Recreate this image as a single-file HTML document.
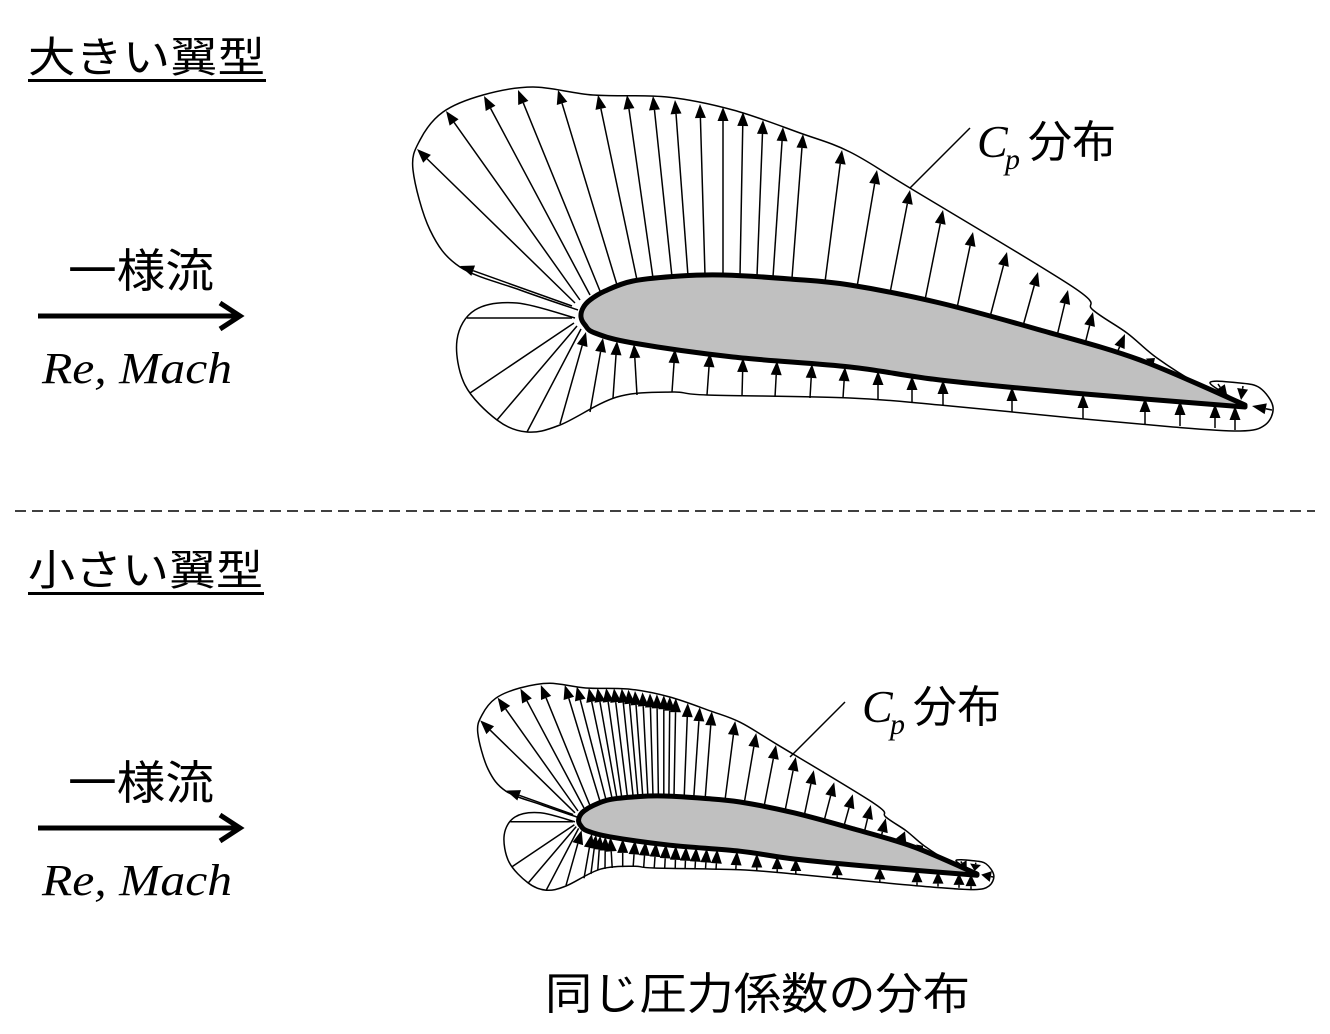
<!DOCTYPE html>
<html><head><meta charset="utf-8">
<style>
html,body{margin:0;padding:0;background:#fff;}
svg{display:block;}
.jp{font-family:"Liberation Sans","Noto Sans CJK JP",sans-serif;}
.it{font-family:"Liberation Serif","Times New Roman",serif;font-style:italic;}
</style></head>
<body>
<svg id="s" width="1330" height="1034" viewBox="0 0 1330 1034" xmlns="http://www.w3.org/2000/svg">
<g id="g"></g>
<text class="jp" x="28" y="72" font-size="42" textLength="237" lengthAdjust="spacingAndGlyphs">大きい翼型</text>
<rect x="28" y="79" width="238" height="3" fill="#000"/>
<text class="jp" x="28" y="585" font-size="42" textLength="235" lengthAdjust="spacingAndGlyphs">小さい翼型</text>
<rect x="28" y="592" width="236" height="3" fill="#000"/>

<text class="jp" x="68" y="287" font-size="46" textLength="146" lengthAdjust="spacingAndGlyphs">一様流</text>
<line x1="38" y1="316" x2="240" y2="316" stroke="#000" stroke-width="5"/>
<polyline points="220,303 240,316 220,329" fill="none" stroke="#000" stroke-width="5"/>
<text class="it" x="42" y="383" font-size="44" textLength="190" lengthAdjust="spacingAndGlyphs">Re, Mach</text>

<text class="jp" x="68" y="799" font-size="46" textLength="146" lengthAdjust="spacingAndGlyphs">一様流</text>
<line x1="38" y1="828" x2="240" y2="828" stroke="#000" stroke-width="5"/>
<polyline points="220,815 240,828 220,841" fill="none" stroke="#000" stroke-width="5"/>
<text class="it" x="42" y="895" font-size="44" textLength="190" lengthAdjust="spacingAndGlyphs">Re, Mach</text>

<line x1="15" y1="511" x2="1315" y2="511" stroke="#000" stroke-width="1.5" stroke-dasharray="11,6"/>

<line x1="910" y1="188" x2="970" y2="128" stroke="#000" stroke-width="1.5"/>
<text class="it" x="977" y="157" font-size="46">C</text>
<text class="it" x="1005" y="169" font-size="30">p</text>
<text class="jp" x="1028" y="157" font-size="44">分布</text>

<line x1="790" y1="757" x2="845" y2="702" stroke="#000" stroke-width="1.5"/>
<text class="it" x="862" y="722" font-size="46">C</text>
<text class="it" x="890" y="734" font-size="30">p</text>
<text class="jp" x="913" y="722" font-size="44">分布</text>

<text class="jp" x="545" y="1009" font-size="44" textLength="425" lengthAdjust="spacingAndGlyphs">同じ圧力係数の分布</text>
</svg>
<script>
(function(){
var NS="http://www.w3.org/2000/svg", g=document.getElementById("g");
function el(n,a){var e=document.createElementNS(NS,n);for(var k in a)e.setAttribute(k,a[k]);g.appendChild(e);return e;}
var body=[[1245,405],[1140,360],[1040,330],[940,303],[850,285],[790,279],[723,275],[680,276],[633,281],[605,291],[590,300],[583,308],[581,317],[585,325],[595,333],[633,343],[733,357],[850,367],[940,380],[1073,393],[1245,407]];
var upE=[[578,310],[520,290],[460,267],[430,230],[413,170],[420,140],[443,112],[483,95],[533,87],[593,95],[667,97],[733,110],[800,133],[850,152],[910,188],[1073,287],[1093,310],[1127,333],[1157,358],[1200,385],[1245,405]];
var loE=[[575,318],[517,303],[475,310],[457,340],[465,385],[497,420],[527,432],[560,425],[617,397],[673,392],[707,395],[850,398],[940,405],[1073,418],[1173,427],[1240,431],[1265,425],[1273,407],[1260,388],[1240,383],[1210,383],[1245,405]];
var upA=[[572,306,460,266],[575,303,417,149],[580,300,446,111],[590,295,484,96],[600,291,518,90],[617,285,558,90],[637,280,598,95],[653,278,627,95],[672,277,653,96],[688,276,675,100],[705,275,700,104],[723,275,723,107],[740,276,743,112],[757,276,763,120],[773,277,783,127],[792,278,803,134],[825,282,842,150],[857,287,877,170],[890,293,910,190],[925,300,943,210],[957,308,973,232],[990,317,1007,252],[1023,326,1038,272],[1057,336,1068,290],[1085,344,1093,312],[1117,353,1125,334],[1148,364,1155,358]];
var fan=[[467,318,572,318],[470,393,574,323],[497,420,577,326],[527,432,581,329]];
var loA=[[560,424,586,332],[590,412,603,338],[613,398,617,341],[637,395,634,344],[672,392,675,349],[707,395,710,353],[742,396,743,358],[775,397,777,361],[810,398,812,364],[843,398,845,367],[878,400,878,371],[912,402,912,376],[943,405,943,380],[1012,412,1012,387],[1083,419,1083,394],[1145,424,1145,398],[1180,426,1180,401],[1215,428,1215,404],[1235,430,1235,406],[1218,384,1228,399],[1243,386,1241,400],[1272,410,1252,406]];
function mid(arr,a,b){var out=[];for(var i=0;i<arr.length;i++){out.push(arr[i]);if(i>=a&&i<b){var p=arr[i],q=arr[i+1];out.push([(p[0]+q[0])/2,(p[1]+q[1])/2,(p[2]+q[2])/2,(p[3]+q[3])/2]);}}return out;}
function draw(s,ox,oy,ua,la){
 function T(p){return [p[0]*s+ox,p[1]*s+oy];}
 function smooth(pts){
  var P=pts.map(T),d="M"+P[0][0]+","+P[0][1];
  for(var i=0;i<P.length-1;i++){var p0=P[Math.max(i-1,0)],p1=P[i],p2=P[i+1],p3=P[Math.min(i+2,P.length-1)];
   d+="C"+(p1[0]+(p2[0]-p0[0])/6).toFixed(1)+","+(p1[1]+(p2[1]-p0[1])/6).toFixed(1)+" "+(p2[0]-(p3[0]-p1[0])/6).toFixed(1)+","+(p2[1]-(p3[1]-p1[1])/6).toFixed(1)+" "+p2[0].toFixed(1)+","+p2[1].toFixed(1);}
  return d;}
 el("path",{d:smooth(upE),fill:"none",stroke:"#000","stroke-width":1.5});
 el("path",{d:smooth(loE),fill:"none",stroke:"#000","stroke-width":1.5});
 function arrow(a,head){var p=T([a[0],a[1]]),q=T([a[2],a[3]]);
  var dx=q[0]-p[0],dy=q[1]-p[1],L=Math.sqrt(dx*dx+dy*dy);if(L<1)return;var ux=dx/L,uy=dy/L,h=Math.min(14,L*0.8),w=5.5;
  var bx=q[0]-ux*h,by=q[1]-uy*h;
  el("line",{x1:p[0],y1:p[1],x2:head?bx:q[0],y2:head?by:q[1],stroke:"#000","stroke-width":1.5});
  if(head)el("polygon",{points:q[0]+","+q[1]+" "+(bx-uy*w)+","+(by+ux*w)+" "+(bx+uy*w)+","+(by-ux*w),fill:"#000"});}
 ua.forEach(function(a){arrow(a,true);});
 fan.forEach(function(a){arrow(a,false);});
 la.forEach(function(a){arrow(a,true);});
 el("path",{d:smooth(body)+"Z",fill:"#c0c0c0",stroke:"#000","stroke-width":5,"stroke-linejoin":"round"});
}
draw(1,0,0,upA,loA);
draw(0.6,230,631,mid(upA,5,12),mid(loA,1,8));
})();
</script>
</body></html>
